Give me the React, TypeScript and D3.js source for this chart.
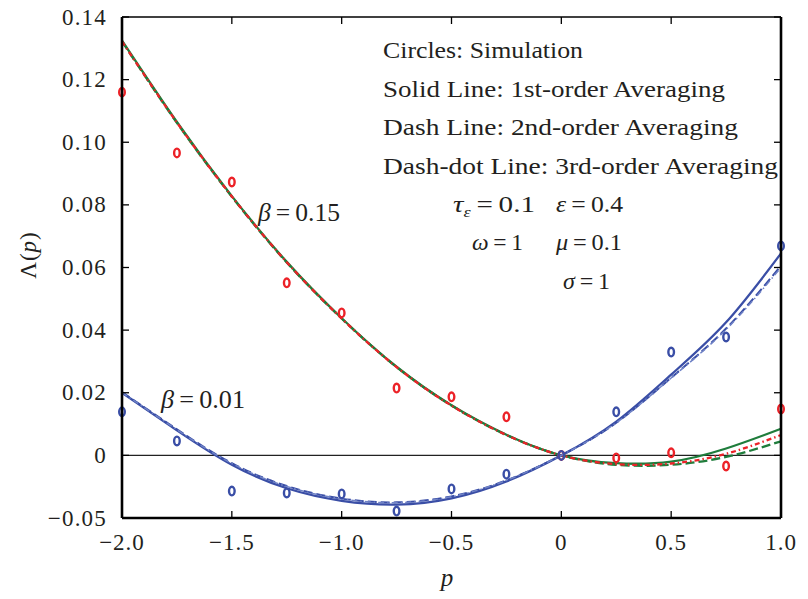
import React from "react";
import * as d3 from "d3";

const pValues = [-2, -1.75, -1.5, -1.25, -1, -0.75, -0.5, -0.25, 0, 0.25, 0.5, 0.75, 1];

// beta = 0.15
const simHigh = [0.116, 0.0966, 0.0873, 0.0551, 0.0455, 0.0215, 0.0187, 0.0123, 0, -0.0008, 0.0008, -0.0034, 0.0148];
const firstHigh = [0.1325, 0.1065, 0.0828, 0.0618, 0.0438, 0.0283, 0.016, 0.0066, 0, -0.0025, -0.002, 0.0022, 0.0085];
const secondHigh = [0.1322, 0.1062, 0.0826, 0.0616, 0.0437, 0.0282, 0.0159, 0.0065, 0, -0.003, -0.003, -0.0005, 0.0045];
const thirdHigh = [0.1322, 0.1063, 0.0827, 0.0617, 0.0437, 0.0282, 0.0159, 0.0065, 0, -0.0028, -0.0026, 0.0005, 0.0065];

// beta = 0.01
const simLow = [0.0139, 0.0046, -0.0114, -0.012, -0.0123, -0.0178, -0.0107, -0.006, 0, 0.0139, 0.033, 0.0378, 0.0669];
const firstLow = [0.02, 0.008, -0.003, -0.0105, -0.0145, -0.0157, -0.0137, -0.0083, 0, 0.0108, 0.0258, 0.0425, 0.0645];
const secondLow = [0.0202, 0.0083, -0.0025, -0.0098, -0.0138, -0.015, -0.0131, -0.008, 0, 0.0104, 0.0248, 0.0405, 0.0606];
const thirdLow = [0.0201, 0.0082, -0.0026, -0.0099, -0.0139, -0.0151, -0.0132, -0.008, 0, 0.0104, 0.0247, 0.0402, 0.06];

const xTicks = [-2, -1.5, -1, -0.5, 0, 0.5, 1];
const xTickLabels = ["\u22122.0", "\u22121.5", "\u22121.0", "\u22120.5", "0", "0.5", "1.0"];
const yTicks = [-0.02, 0, 0.02, 0.04, 0.06, 0.08, 0.1, 0.12, 0.14];
const yTickLabels = ["\u22120.05", "0", "0.02", "0.04", "0.06", "0.08", "0.10", "0.12", "0.14"];

const legendLines = [
  "Circles: Simulation",
  "Solid Line: 1st-order Averaging",
  "Dash Line: 2nd-order Averaging",
  "Dash-dot Line: 3rd-order Averaging",
];
const legendWidths = [200, 342, 355, 395];

const BLUE = "#3a4ea6";
const BLUE_LIGHT = "#6f82c6";
const GREEN = "#1f7d3c";
const RED = "#ec2228";

const TS = "\u2009";

export default function App() {
  const left = 122, right = 781, top = 17, bottom = 518;
  const x = d3.scaleLinear().domain([-2, 1]).range([left, right]);
  const y = d3.scaleLinear().domain([-0.02, 0.14]).range([bottom, top]);
  const line = d3
    .line<number>()
    .x((_, i) => x(pValues[i]))
    .y((v) => y(v))
    .curve(d3.curveNatural);
  const font = "'Liberation Serif', 'DejaVu Serif', serif";
  const tl = 7;
  const fs = 23;
  const lfs = 24;
  const ink = "#231f20";
  const adj = "spacingAndGlyphs";

  return (
    <svg width={808} height={599} style={{ position: "absolute", left: 0, top: 0, background: "#fff" }} fontFamily={font}>
      <rect x={0} y={0} width={808} height={599} fill="#fff" />
      {/* zero line */}
      <line x1={left} x2={right} y1={y(0)} y2={y(0)} stroke="#222" strokeWidth={1.2} />

      {/* curves beta=0.15 */}
      <path d={line(firstHigh) || ""} fill="none" stroke={GREEN} strokeWidth={2.3} />
      <path d={line(secondHigh) || ""} fill="none" stroke={GREEN} strokeWidth={2.3} strokeDasharray="9 4" />
      <path d={line(thirdHigh) || ""} fill="none" stroke={RED} strokeWidth={2.3} strokeDasharray="5 3 1.5 3" />

      {/* curves beta=0.01 */}
      <path d={line(firstLow) || ""} fill="none" stroke={BLUE} strokeWidth={2.3} />
      <path d={line(secondLow) || ""} fill="none" stroke={BLUE} strokeWidth={2} strokeDasharray="9 4" />
      <path d={line(thirdLow) || ""} fill="none" stroke={BLUE_LIGHT} strokeWidth={1.5} strokeDasharray="6 3 1.5 3" />

      {/* simulation circles */}
      {simHigh.map((v, i) => (
        <ellipse key={"h" + i} cx={x(pValues[i])} cy={y(v)} rx={2.8} ry={4.3} fill="none" stroke={RED} strokeWidth={2.4} />
      ))}
      {simLow.map((v, i) => (
        <ellipse key={"l" + i} cx={x(pValues[i])} cy={y(v)} rx={2.8} ry={4.3} fill="none" stroke={BLUE} strokeWidth={2.4} />
      ))}

      {/* frame */}
      <line x1={left} x2={right} y1={top} y2={top} stroke="#000" strokeWidth={1.5} />
      <line x1={left} x2={left} y1={top} y2={bottom} stroke="#000" strokeWidth={2.6} />
      <line x1={right} x2={right} y1={top} y2={bottom} stroke="#000" strokeWidth={2.6} />
      <line x1={left} x2={right} y1={bottom} y2={bottom} stroke="#000" strokeWidth={2.6} />

      {/* ticks */}
      {xTicks.map((t, i) => (
        <g key={"xt" + i}>
          <line x1={x(t)} x2={x(t)} y1={bottom} y2={bottom - tl} stroke="#000" strokeWidth={1.3} />
          <line x1={x(t)} x2={x(t)} y1={top} y2={top + tl} stroke="#000" strokeWidth={1.3} />
          <text x={x(t)} y={bottom + 32} textAnchor="middle" fontSize={fs} letterSpacing={1} fill={ink}>
            {xTickLabels[i]}
          </text>
        </g>
      ))}
      {yTicks.map((t, i) => (
        <g key={"yt" + i}>
          <line x1={left} x2={left + tl} y1={y(t)} y2={y(t)} stroke="#000" strokeWidth={1.3} />
          <line x1={right} x2={right - tl} y1={y(t)} y2={y(t)} stroke="#000" strokeWidth={1.3} />
          <text x={107} y={y(t) + 7.5} textAnchor="end" fontSize={fs} letterSpacing={1.2} fill={ink}>
            {yTickLabels[i]}
          </text>
        </g>
      ))}

      {/* axis labels */}
      <text x={447} y={586} textAnchor="middle" fontSize={25} fontStyle="italic" fill={ink}>p</text>
      <text transform={`translate(36,255) rotate(-90)`} textAnchor="middle" fontSize={23} letterSpacing={1} fill={ink}>
        Λ(<tspan fontStyle="italic">p</tspan>)
      </text>

      {/* legend text */}
      {legendLines.map((s, i) => (
        <text key={"lg" + i} x={383} y={58 + i * 38.5} fontSize={lfs} fill={ink} textLength={legendWidths[i]} lengthAdjust={adj}>
          {s}
        </text>
      ))}
      <text x={453} y={212} fontSize={lfs} fill={ink} textLength={82} lengthAdjust={adj}>
        <tspan fontStyle="italic">τ</tspan>
        <tspan fontStyle="italic" fontSize={15} dy={5}>ε</tspan>
        <tspan dy={-5}>{TS + "=" + TS + "0.1"}</tspan>
      </text>
      <text x={556} y={212} fontSize={lfs} fill={ink} textLength={67} lengthAdjust={adj}>
        <tspan fontStyle="italic">ε</tspan>
        {TS + "=" + TS + "0.4"}
      </text>
      <text x={472} y={250} fontSize={lfs} fill={ink} textLength={51} lengthAdjust={adj}>
        <tspan fontStyle="italic">ω</tspan>
        {TS + "=" + TS + "1"}
      </text>
      <text x={556} y={250} fontSize={lfs} fill={ink} textLength={66} lengthAdjust={adj}>
        <tspan fontStyle="italic">μ</tspan>
        {TS + "=" + TS + "0.1"}
      </text>
      <text x={563} y={289} fontSize={lfs} fill={ink} textLength={47} lengthAdjust={adj}>
        <tspan fontStyle="italic">σ</tspan>
        {TS + "=" + TS + "1"}
      </text>

      {/* beta labels */}
      <text x={258} y={221} fontSize={25} fill={ink} textLength={82} lengthAdjust={adj}>
        <tspan fontStyle="italic">β</tspan>
        {TS + "=" + TS + "0.15"}
      </text>
      <text x={161} y={408} fontSize={25} fill={ink} textLength={84} lengthAdjust={adj}>
        <tspan fontStyle="italic">β</tspan>
        {TS + "=" + TS + "0.01"}
      </text>
    </svg>
  );
}
